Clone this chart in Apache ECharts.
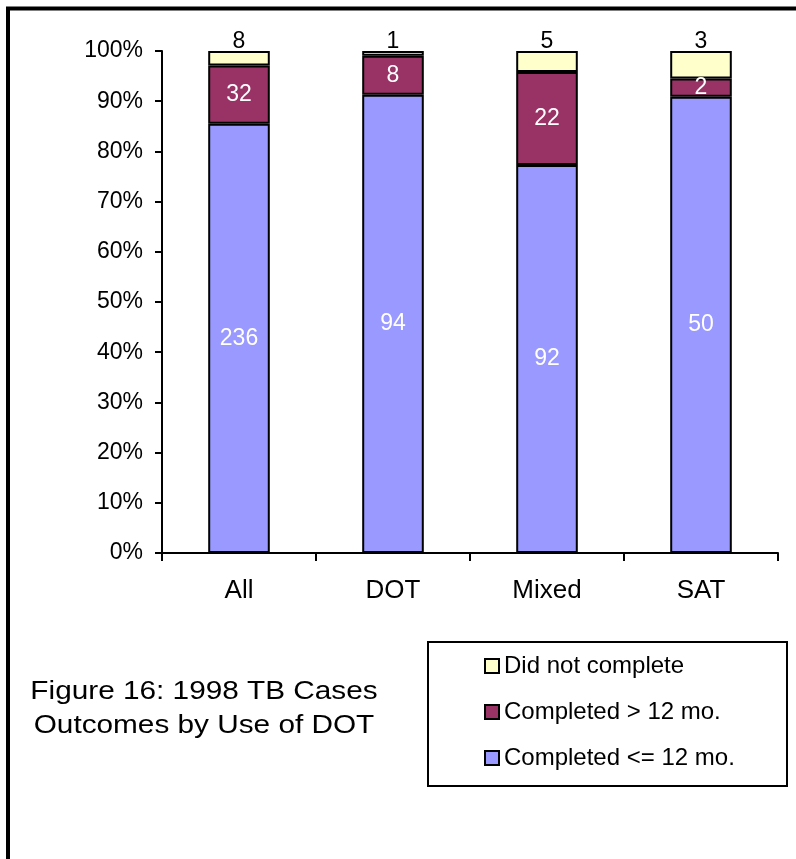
<!DOCTYPE html>
<html>
<head>
<meta charset="utf-8">
<script src="https://cdn.jsdelivr.net/npm/echarts@6/dist/echarts.min.js"></script>
<style>
  html, body { margin: 0; padding: 0; background: #fff; }
  #chart { width: 796px; height: 859px; }
</style>
</head>
<body>
<div id="chart"></div>
<script>
// Case counts per DOT usage group
const categories = ['All', 'DOT', 'Mixed', 'SAT'];
const completedWithin12 = [236, 94, 92, 50];
const completedOver12 = [32, 8, 22, 2];
const didNotComplete = [8, 1, 5, 3];
const seriesNames = ['Completed <= 12 mo.', 'Completed > 12 mo.', 'Did not complete'];
const yTicks = [0, 10, 20, 30, 40, 50, 60, 70, 80, 90, 100];

// Each bar is scaled to 100% of its group's cases
const totals = categories.map((_, i) => completedWithin12[i] + completedOver12[i] + didNotComplete[i]);
const share = arr => arr.map((v, i) => v / totals[i] * 100);

const FONT = 'Liberation Sans, Arial, sans-serif';
const chart = echarts.init(document.getElementById('chart'));

function barSeries(name, counts, color, label) {
  return {
    name: name,
    type: 'bar',
    stack: 'outcome',
    barWidth: '40%',
    data: share(counts),
    itemStyle: { color: color, borderColor: '#000', borderWidth: 2 },
    label: Object.assign({
      show: true,
      fontFamily: FONT,
      fontSize: 23,
      formatter: p => String(counts[p.dataIndex])
    }, label),
    emphasis: { disabled: true }
  };
}

chart.setOption({
  animation: false,
  textStyle: { fontFamily: FONT },
  grid: { left: 162, right: 18, top: 51, bottom: 306 },
  xAxis: {
    type: 'category',
    data: categories,
    axisLine: { lineStyle: { color: '#000', width: 2 } },
    axisTick: { show: true, length: 8, lineStyle: { color: '#000', width: 2 } },
    axisLabel: { color: '#000', fontSize: 26, fontFamily: FONT, margin: 25 },
    splitLine: { show: false }
  },
  yAxis: {
    type: 'value',
    min: yTicks[0],
    max: yTicks[yTicks.length - 1],
    interval: 10,
    axisLine: { show: true, lineStyle: { color: '#000', width: 2 } },
    axisTick: { show: true, length: 7, lineStyle: { color: '#000', width: 2 } },
    axisLabel: { color: '#000', fontSize: 23, fontFamily: FONT, margin: 19, formatter: '{value}%' },
    splitLine: { show: false }
  },
  legend: {
    orient: 'vertical',
    left: 479,
    top: 649,
    itemWidth: 14,
    itemHeight: 14,
    itemGap: 22,
    data: [seriesNames[2], seriesNames[1], seriesNames[0]],
    textStyle: { color: '#000', fontSize: 24, fontFamily: FONT },
    icon: 'rect',
    selectedMode: false
  },
  graphic: [
    {
      type: 'rect',
      shape: { x: 8, y: 8.5, width: 900, height: 900 },
      style: { fill: 'none', stroke: '#000', lineWidth: 4 },
      silent: true
    },
    {
      type: 'rect',
      shape: { x: 428, y: 642, width: 359, height: 144 },
      style: { fill: 'none', stroke: '#000', lineWidth: 2 },
      silent: true
    },
    {
      type: 'text',
      x: 204,
      y: 709,
      scaleX: 1.19,
      style: {
        text: 'Figure 16: 1998 TB Cases\nOutcomes by Use of DOT',
        fill: '#000',
        font: '25px ' + FONT,
        textAlign: 'center',
        textVerticalAlign: 'middle',
        lineHeight: 34
      },
      silent: true
    }
  ],
  series: [
    barSeries(seriesNames[0], completedWithin12, '#9999FF', { position: 'inside', color: '#fff' }),
    barSeries(seriesNames[1], completedOver12, '#993366', { position: 'inside', color: '#fff' }),
    barSeries(seriesNames[2], didNotComplete, '#FFFFCC', { position: 'top', color: '#000', distance: -2 })
  ]
});
</script>
</body>
</html>
